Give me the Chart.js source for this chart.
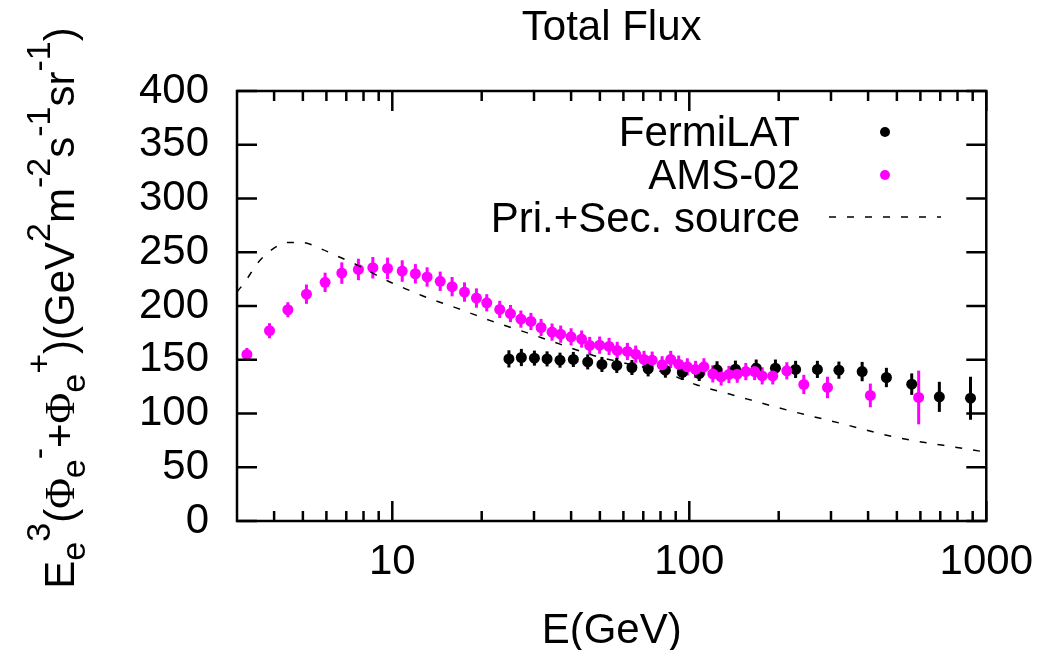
<!DOCTYPE html>
<html>
<head>
<meta charset="utf-8">
<script src="https://cdn.jsdelivr.net/npm/chart.js@4.4.1/dist/chart.umd.min.js"></script>
<style>
html, body { margin: 0; padding: 0; background: #fff; }
</style>
</head>
<body>
<canvas id="graph" width="1049" height="650"></canvas>
<script>
// AMS-02 total flux (E in GeV, E^3 flux)
let amsE = [3.24, 3.86, 4.45, 5.14, 5.94, 6.76, 7.69, 8.6, 9.64, 10.8, 11.96, 13.1, 14.5, 15.9, 17.5, 19.2, 20.8,
  23.0, 25.0, 27.1, 29.3, 31.7, 34.5, 36.9, 40.0, 43.4, 46.2, 49.9, 53.7, 57.2, 61.9, 66.0, 70.4, 75.0, 81.0, 86.6, 92.1, 98.5,
  105, 112, 120, 128, 136, 145, 155, 166, 176, 191, 213, 243, 292, 407, 592];
let amsF = [155, 177, 196.5, 211, 222, 230.6, 234, 235.6, 235, 232.5, 230, 227, 223, 218, 213, 207.4, 203,
  196.8, 193, 187.8, 185.6, 180, 175.7, 173.8, 171.3, 169.2, 163.3, 163.6, 162.4, 158.7, 157.7, 155.2, 150.3, 149.6, 145.3, 150.3, 145.9, 143.4,
  141, 143.4, 136.9, 134, 136.3, 136.6, 139, 139, 135, 135, 139.7, 127, 124.2, 116.8, 114.9];
let amsErr = [6, 7, 7, 9, 9, 10, 10, 10, 10, 10, 9, 9, 9, 9, 9, 9, 8,
  8, 8, 8, 8, 8, 8, 8, 8, 8, 8, 8, 8, 8, 8, 8, 8, 8, 8, 8, 8, 8,
  8, 8, 8, 8, 8, 8, 8, 8, 8, 8, 8, 9, 10, 11, 25];

// FermiLAT
let fermiE = [24.7, 27.2, 30.1, 33.2, 36.7, 40.7, 45.5, 50.8, 57.0, 64.1, 72.7, 83.1, 94.8, 108, 124, 143, 168, 195, 228, 270, 319, 382, 461, 561, 695, 885];
let fermiF = [150.8, 152.1, 151.5, 150.8, 149.6, 150.3, 148, 145.6, 144.7, 142.8, 141.5, 140.3, 138.2, 137.2, 140.6, 141.2, 142.2, 142.2, 141, 141, 140.3, 139, 133.5, 127.3, 115.5, 114.2];
let fermiErr = [8, 8, 7, 7, 7, 7, 7, 7, 7, 7, 7, 7, 7, 7, 8, 8, 8, 8, 8, 8, 8, 9, 9, 10, 14, 20];

// primary + secondary source model
let modelE = [3.0, 3.22, 3.52, 3.91, 4.44, 4.98, 5.81, 6.60, 7.51, 8.53, 9.70, 11.0, 12.5, 14.3, 16.6, 19.1, 21.5, 28.5, 36.7, 47.5, 61.4, 81.4, 105, 141, 215, 325, 489, 883, 1000];
let modelF = [213, 224, 240, 252, 259, 259, 252.7, 245.8, 239, 231, 223, 216.4, 210, 204, 197.8, 191.5, 186.2, 175, 164.5, 154, 146.5, 138.7, 127, 117, 103, 90.7, 78.2, 66.5, 64];

let xLabels = [10, 100, 1000];
let xMinor = [4, 5, 6, 7, 8, 9, 20, 30, 40, 50, 60, 70, 80, 90, 200, 300, 400, 500, 600, 700, 800, 900];
let yTicks = [0, 50, 100, 150, 200, 250, 300, 350, 400];

const FONT = '"Liberation Sans", Arial, sans-serif';
const SERIF = '"Liberation Serif", "DejaVu Serif", serif';
const MAGENTA = '#ff00ff';
const FS = 42;

// y title pieces: [text, shift] shift -1 sub, 1 sup
let yTitle = [['E', 0], ['e', -1], ['3', 1], ['(', 0], ['\u03A6', 0], ['e', -1], ['-', 1], ['+', 0], ['\u03A6', 0], ['e', -1], ['+', 1],
  [')(GeV', 0], ['2', 1], ['m', 0], ['-2', 1], ['s', 0], ['-1', 1], ['sr', 0], ['-1', 1], [')', 0]];

let pts = (xs, ys) => xs.map((v, i) => ({x: v, y: ys[i]}));

const errorBars = {
  id: 'errorBars',
  beforeDatasetsDraw(chart) {
    const {ctx, scales: {x, y}} = chart;
    chart.data.datasets.forEach(ds => {
      if (!ds.errors) return;
      ctx.save();
      ctx.strokeStyle = ds.backgroundColor;
      ctx.lineWidth = 3;
      ds.data.forEach((p, j) => {
        const px = x.getPixelForValue(p.x);
        ctx.beginPath();
        ctx.moveTo(px, y.getPixelForValue(p.y - ds.errors[j]));
        ctx.lineTo(px, y.getPixelForValue(p.y + ds.errors[j]));
        ctx.stroke();
      });
      ctx.restore();
    });
  }
};

const decor = {
  id: 'decor',
  afterDraw(chart) {
    const {ctx, chartArea: a, scales: {x, y}} = chart;
    const line = (x1, y1, x2, y2) => { ctx.beginPath(); ctx.moveTo(x1, y1); ctx.lineTo(x2, y2); ctx.stroke(); };
    ctx.save();
    ctx.strokeStyle = '#000';
    ctx.lineWidth = 2.5;
    ctx.strokeRect(a.left, a.top, a.right - a.left, a.bottom - a.top);
    yTicks.forEach(v => {
      const py = y.getPixelForValue(v);
      line(a.left, py, a.left + 20, py);
      line(a.right, py, a.right - 20, py);
    });
    xLabels.forEach(v => {
      const px = x.getPixelForValue(v);
      line(px, a.bottom, px, a.bottom - 20);
      line(px, a.top, px, a.top + 20);
    });
    xMinor.forEach(v => {
      const px = x.getPixelForValue(v);
      line(px, a.bottom, px, a.bottom - 10);
      line(px, a.top, px, a.top + 10);
    });

    ctx.fillStyle = '#000';
    ctx.font = FS + 'px ' + FONT;
    ctx.textAlign = 'center';
    ctx.textBaseline = 'alphabetic';
    const cx = (a.left + a.right) / 2;
    ctx.fillText('Total Flux', cx, 40);
    ctx.fillText('E(GeV)', cx, 643);

    // legend
    ctx.textAlign = 'right';
    ctx.fillText('FermiLAT', 800, 146);
    ctx.fillText('AMS-02', 800, 189);
    ctx.fillText('Pri.+Sec. source', 800, 232);
    ctx.beginPath(); ctx.arc(885, 132, 5, 0, Math.PI * 2); ctx.fill();
    ctx.fillStyle = MAGENTA;
    ctx.beginPath(); ctx.arc(885, 175, 5, 0, Math.PI * 2); ctx.fill();
    ctx.lineWidth = 1.5;
    ctx.setLineDash([7, 11]);
    line(829, 217, 941, 217);
    ctx.setLineDash([]);

    // rotated y title with sub/superscripts
    ctx.fillStyle = '#000';
    ctx.textAlign = 'left';
    const setF = p => {
      const size = p[1] === 0 ? FS : 34;
      ctx.font = size + 'px ' + (p[0] === '\u03A6' ? SERIF : FONT);
    };
    let total = 0;
    yTitle.forEach(p => { setF(p); total += ctx.measureText(p[0]).width; });
    ctx.translate(74, 308);
    ctx.rotate(-Math.PI / 2);
    let cur = -total / 2;
    yTitle.forEach(p => {
      setF(p);
      const dy = p[1] === -1 ? 11 : (p[1] === 1 ? -24 : 0);
      ctx.fillText(p[0], cur, dy);
      cur += ctx.measureText(p[0]).width;
    });
    ctx.restore();
  }
};

let graph = document.getElementById('graph');
new Chart(graph, {
  type: 'scatter',
  data: {
    datasets: [
      {
        label: 'Pri.+Sec. source',
        data: pts(modelE, modelF),
        showLine: true,
        borderColor: '#000',
        borderWidth: 1.5,
        borderDash: [7, 11],
        pointRadius: 0,
        cubicInterpolationMode: 'monotone'
      },
      {
        label: 'AMS-02',
        data: pts(amsE, amsF),
        errors: amsErr,
        backgroundColor: MAGENTA,
        borderColor: MAGENTA,
        pointRadius: 5.5,
        borderWidth: 0
      },
      {
        label: 'FermiLAT',
        data: pts(fermiE, fermiF),
        errors: fermiErr,
        backgroundColor: '#000',
        borderColor: '#000',
        pointRadius: 5.5,
        borderWidth: 0
      }
    ]
  },
  options: {
    responsive: false,
    animation: false,
    layout: { padding: { top: 91, right: 56, bottom: 0, left: 0 } },
    plugins: { legend: { display: false }, tooltip: { enabled: false } },
    scales: {
      x: {
        type: 'logarithmic',
        min: 3,
        max: 1000,
        grid: { display: false, drawTicks: false },
        border: { display: false },
        ticks: { font: { family: FONT, size: FS }, color: '#000', padding: 16, maxRotation: 0, autoSkip: false, callback: v => String(v) },
        afterBuildTicks: s => { s.ticks = xLabels.map(v => ({ value: v })); },
        afterFit: s => { s.height = 129; }
      },
      y: {
        min: 0,
        max: 400,
        grid: { display: false, drawTicks: false },
        border: { display: false },
        ticks: { stepSize: 50, font: { family: FONT, size: FS }, color: '#000', padding: 28 },
        afterFit: s => { s.width = 237; }
      }
    }
  },
  plugins: [errorBars, decor]
});
</script>
</body>
</html>
